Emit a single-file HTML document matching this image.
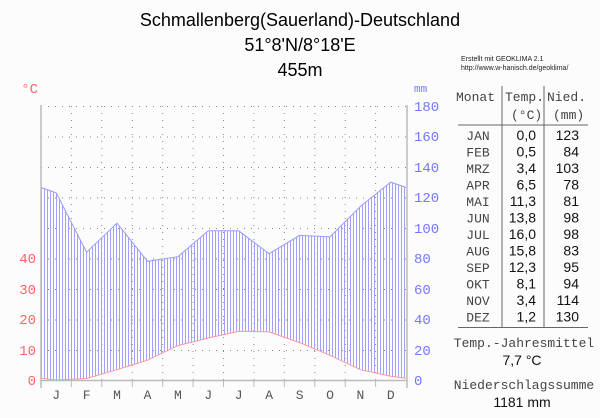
<!DOCTYPE html>
<html><head><meta charset="utf-8"><style>
html,body{margin:0;padding:0;background:#fcfcfc;}
svg{display:block}
</style></head><body>
<svg width="600" height="418" xmlns="http://www.w3.org/2000/svg">
<defs>
<pattern id="h" width="3" height="10" patternUnits="userSpaceOnUse" x="41">
<rect x="0" y="0" width="1" height="10" fill="#a0a0ff"/>
</pattern>
</defs>
<rect width="600" height="418" fill="#fcfcfc"/>
<g font-family="Liberation Sans, sans-serif" fill="#000" text-anchor="middle" font-size="18">
<text x="300" y="26">Schmallenberg(Sauerland)-Deutschland</text>
<text x="300" y="51">51°8'N/8°18'E</text>
<text x="300" y="76">455m</text>
</g>
<!-- grid -->
<g stroke="#888" stroke-width="1" stroke-dasharray="1,6">
<line x1="41" y1="106.5" x2="406" y2="106.5"/>
<line x1="41" y1="137" x2="406" y2="137"/>
<line x1="41" y1="167.5" x2="406" y2="167.5"/>
<line x1="41" y1="198" x2="406" y2="198"/>
<line x1="41" y1="228.5" x2="406" y2="228.5"/>
<line x1="41" y1="259" x2="406" y2="259"/>
<line x1="41" y1="289.5" x2="406" y2="289.5"/>
<line x1="41" y1="320" x2="406" y2="320"/>
<line x1="41" y1="350.5" x2="406" y2="350.5"/>
<line x1="71.4" y1="106" x2="71.4" y2="380"/>
<line x1="101.8" y1="106" x2="101.8" y2="380"/>
<line x1="132.3" y1="106" x2="132.3" y2="380"/>
<line x1="162.7" y1="106" x2="162.7" y2="380"/>
<line x1="193.1" y1="106" x2="193.1" y2="380"/>
<line x1="223.5" y1="106" x2="223.5" y2="380"/>
<line x1="253.9" y1="106" x2="253.9" y2="380"/>
<line x1="284.3" y1="106" x2="284.3" y2="380"/>
<line x1="314.8" y1="106" x2="314.8" y2="380"/>
<line x1="345.2" y1="106" x2="345.2" y2="380"/>
<line x1="375.6" y1="106" x2="375.6" y2="380"/>
</g>
<!-- hatch -->
<polygon fill="url(#h)" points="41,187.5 56.2,192.8 86.6,252.2 117,223.2 147.5,261.3 177.9,256.7 208.3,230.8 238.7,230.8 269.1,253.7 299.6,235.4 330,236.9 360.4,206.5 390.8,182.1 406,187.5 406,378.2 390.8,376.3 360.4,369.7 330,355.3 299.6,342.6 269.1,331.9 238.7,331.3 208.3,338 177.9,345.6 147.5,360.2 117,369.7 86.6,378.5 56.2,380 41,378.2"/>
<polyline fill="none" stroke="#9a9aff" stroke-width="1" points="41,187.5 56.2,192.8 86.6,252.2 117,223.2 147.5,261.3 177.9,256.7 208.3,230.8 238.7,230.8 269.1,253.7 299.6,235.4 330,236.9 360.4,206.5 390.8,182.1 406,187.5"/>
<polyline fill="none" stroke="#ff9999" stroke-width="1" points="41,378.2 56.2,380 86.6,378.5 117,369.7 147.5,360.2 177.9,345.6 208.3,338 238.7,331.3 269.1,331.9 299.6,342.6 330,355.3 360.4,369.7 390.8,376.3 406,378.2"/>
<!-- axes -->
<g stroke="#bbb" stroke-width="1.5">
<line x1="41" y1="105" x2="41" y2="388"/>
<line x1="407" y1="105" x2="407" y2="388"/>
<line x1="41" y1="380.5" x2="407" y2="380.5"/>
</g>
<g stroke="#bbb" stroke-width="1">
<line x1="71.4" y1="380" x2="71.4" y2="387"/><line x1="101.8" y1="380" x2="101.8" y2="387"/>
<line x1="132.3" y1="380" x2="132.3" y2="387"/><line x1="162.7" y1="380" x2="162.7" y2="387"/>
<line x1="193.1" y1="380" x2="193.1" y2="387"/><line x1="223.5" y1="380" x2="223.5" y2="387"/>
<line x1="253.9" y1="380" x2="253.9" y2="387"/><line x1="284.3" y1="380" x2="284.3" y2="387"/>
<line x1="314.8" y1="380" x2="314.8" y2="387"/><line x1="345.2" y1="380" x2="345.2" y2="387"/>
<line x1="375.6" y1="380" x2="375.6" y2="387"/>
</g>
<g font-family="Liberation Mono, monospace" font-size="14" fill="#ff6666" text-anchor="end">
<text x="36" y="385">0</text><text x="36" y="355">10</text><text x="36" y="324">20</text><text x="36" y="294">30</text><text x="36" y="263">40</text>
<text x="38" y="93">°C</text>
</g>
<g font-family="Liberation Mono, monospace" font-size="14" fill="#7777ff">
<text x="414" y="385">0</text><text x="414" y="355">20</text><text x="414" y="324">40</text><text x="414" y="294">60</text>
<text x="414" y="263">80</text><text x="414" y="233">100</text><text x="414" y="202">120</text><text x="414" y="172">140</text>
<text x="414" y="141">160</text><text x="414" y="111">180</text>
<text x="414" y="92" font-size="11">mm</text>
</g>
<g font-family="Liberation Mono, monospace" font-size="13" fill="#555" text-anchor="middle">
<text x="56.2" y="399">J</text><text x="86.6" y="399">F</text><text x="117" y="399">M</text><text x="147.5" y="399">A</text>
<text x="177.9" y="399">M</text><text x="208.3" y="399">J</text><text x="238.7" y="399">J</text><text x="269.1" y="399">A</text>
<text x="299.6" y="399">S</text><text x="330" y="399">O</text><text x="360.4" y="399">N</text><text x="390.8" y="399">D</text>
</g>
<!-- table -->
<g font-family="Liberation Sans, sans-serif" font-size="7" fill="#222">
<text x="461" y="61">Erstellt mit GEOKLIMA 2.1</text>
<text x="461" y="70">http://www.w-hanisch.de/geoklima/</text>
</g>
<g stroke="#666" stroke-width="1">
<line x1="502" y1="86" x2="502" y2="328"/>
<line x1="544" y1="86" x2="544" y2="328"/>
<line x1="458" y1="125" x2="588" y2="125"/>
<line x1="458" y1="327.5" x2="588" y2="327.5"/>
</g>
<g font-family="Liberation Mono, monospace" font-size="13" fill="#444">
<text x="456" y="101">Monat</text>
<text x="505" y="101">Temp.</text>
<text x="547" y="101">Nied.</text>
<text x="511" y="119">(°C)</text>
<text x="553" y="119">(mm)</text>
</g>
<g font-family="Liberation Mono, monospace" font-size="13" fill="#444" text-anchor="middle">
<text x="478" y="140">JAN</text><text x="478" y="156.5">FEB</text><text x="478" y="173">MRZ</text><text x="478" y="189.5">APR</text>
<text x="478" y="206">MAI</text><text x="478" y="222.5">JUN</text><text x="478" y="239">JUL</text><text x="478" y="255.5">AUG</text>
<text x="478" y="272">SEP</text><text x="478" y="288.5">OKT</text><text x="478" y="305">NOV</text><text x="478" y="321.5">DEZ</text>
</g>
<g font-family="Liberation Sans, sans-serif" font-size="14" fill="#111" text-anchor="end">
<text x="536" y="140">0,0</text><text x="536" y="156.5">0,5</text><text x="536" y="173">3,4</text><text x="536" y="189.5">6,5</text>
<text x="536" y="206">11,3</text><text x="536" y="222.5">13,8</text><text x="536" y="239">16,0</text><text x="536" y="255.5">15,8</text>
<text x="536" y="272">12,3</text><text x="536" y="288.5">8,1</text><text x="536" y="305">3,4</text><text x="536" y="321.5">1,2</text>
<text x="579" y="140">123</text><text x="579" y="156.5">84</text><text x="579" y="173">103</text><text x="579" y="189.5">78</text>
<text x="579" y="206">81</text><text x="579" y="222.5">98</text><text x="579" y="239">98</text><text x="579" y="255.5">83</text>
<text x="579" y="272">95</text><text x="579" y="288.5">94</text><text x="579" y="305">114</text><text x="579" y="321.5">130</text>
</g>
<g font-family="Liberation Mono, monospace" font-size="13" fill="#444" text-anchor="middle">
<text x="524" y="347">Temp.-Jahresmittel</text>
<text x="524" y="389">Niederschlagssumme</text>
</g>
<g font-family="Liberation Sans, sans-serif" font-size="14" fill="#111" text-anchor="middle">
<text x="522" y="365">7,7 °C</text>
<text x="522" y="407">1181 mm</text>
</g>
</svg>
</body></html>
